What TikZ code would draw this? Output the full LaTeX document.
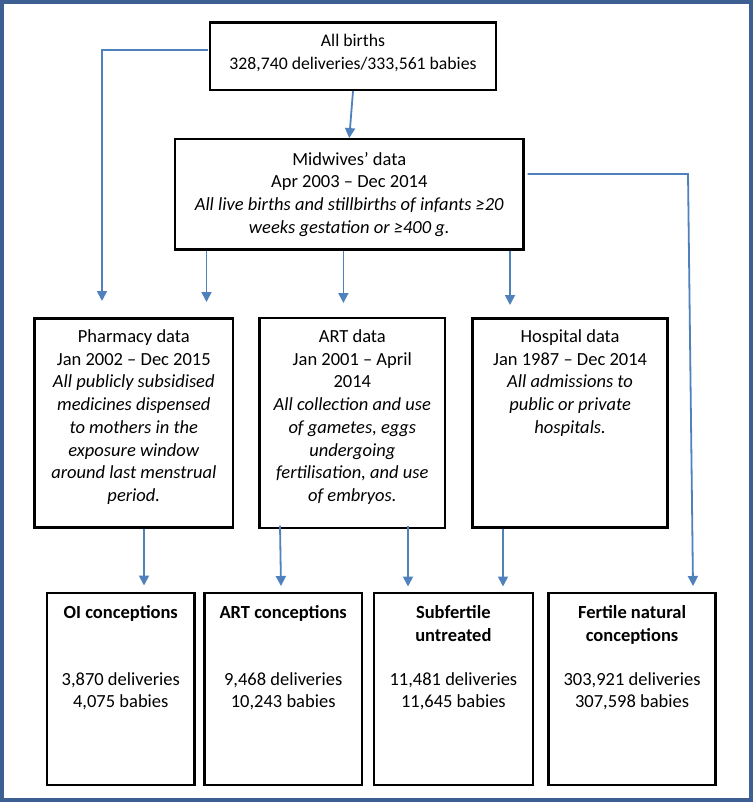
\documentclass[tikz,border=0pt]{standalone}
\usepackage{fontspec}
\setmainfont{Carlito}
\usetikzlibrary{arrows.meta}
\definecolor{frameblue}{HTML}{3E5F91}
\definecolor{arrowblue}{HTML}{4F81BD}
\begin{document}
\begin{tikzpicture}[x=1pt,y=-1pt,
  box/.style={draw=black, line width=2.4pt, inner sep=0pt, fill=none},
  txt/.style={inner sep=0pt, align=center, anchor=north, font=\fontsize{18.5pt}{22.7pt}\selectfont},
  conn/.style={draw=arrowblue, line width=1.8pt, -{Triangle[length=10pt,width=10pt]}}]
\useasboundingbox (0,0) rectangle (753,802);
\fill[white] (0,0) rectangle (753,802);
\draw[frameblue, line width=4pt] (2,2) rectangle (751,800);

% boxes
\node[box, minimum width=286pt, minimum height=67.3pt] (allb) at (353,56.35) {};
\node[box, minimum width=348.5pt, minimum height=110pt] (midw) at (349.25,194.3) {};
\node[box, minimum width=198.4pt, minimum height=209pt] (pharm) at (133.8,422.8) {};
\node[box, minimum width=185.8pt, minimum height=209.7pt] (artd) at (352.3,423.1) {};
\node[box, minimum width=195pt, minimum height=209pt] (hosp) at (570.1,422.8) {};
\node[box, minimum width=147.5pt, minimum height=192.3pt] (oi) at (120.75,688.85) {};
\node[box, minimum width=157.1pt, minimum height=192.3pt] (artc) at (283.15,688.85) {};
\node[box, minimum width=159.3pt, minimum height=192.3pt] (subf) at (453.35,688.85) {};
\node[box, minimum width=167.1pt, minimum height=192.3pt] (fert) at (632.05,688.85) {};

% texts
\node[txt, font=\fontsize{17.7pt}{22.3pt}\selectfont] (tallb) at (353,34.5) {All births\\328,740 deliveries/333,561 babies};
\node[txt] (tmidw) at (349.25,152) {Midwives’ data\\Apr 2003 – Dec 2014\\\itshape All live births and stillbirths of infants ≥20\\\itshape weeks gestation or ≥400 g.};
\node[txt] (tpharm) at (133.8,329.5) {Pharmacy data\\Jan 2002 – Dec 2015\\\itshape All publicly subsidised\\\itshape medicines dispensed\\\itshape to mothers in the\\\itshape exposure window\\\itshape around last menstrual\\\itshape period.};
\node[txt] (tartd) at (352.3,329.5) {ART data\\Jan 2001 – April\\2014\\\itshape All collection and use\\\itshape of gametes, eggs\\\itshape undergoing\\\itshape fertilisation, and use\\\itshape of embryos.};
\node[txt] (thosp) at (570.1,329.5) {Hospital data\\Jan 1987 – Dec 2014\\\itshape All admissions to\\\itshape public or private\\\itshape hospitals.};

\node[txt, font=\fontsize{18.5pt}{22.7pt}\selectfont\bfseries] (hoi) at (120.75,605.5) {OI conceptions};
\node[txt, font=\fontsize{18.5pt}{22.7pt}\selectfont\bfseries] (hartc) at (283.15,605.5) {ART conceptions};
\node[txt, font=\fontsize{18.5pt}{22.7pt}\selectfont\bfseries] (hsubf) at (453.35,605.5) {Subfertile\\untreated};
\node[txt, font=\fontsize{18.5pt}{22.7pt}\selectfont\bfseries] (hfert) at (632.05,605.5) {Fertile natural\\conceptions};

\node[txt] (noi) at (120.75,672) {3,870 deliveries\\4,075 babies};
\node[txt] (nartc) at (283.15,672) {9,468 deliveries\\10,243 babies};
\node[txt] (nsubf) at (453.35,672) {11,481 deliveries\\11,645 babies};
\node[txt] (nfert) at (632.05,672) {303,921 deliveries\\307,598 babies};

% arrow end points
\coordinate (eL1) at (102,301);
\coordinate (eL2) at (206.5,302);
\coordinate (eL3) at (343.4,303);
\coordinate (eL4) at (510,305);
\coordinate (bR) at (688,174);
\coordinate (bL) at (102,50);
\coordinate (sL) at (207.5,50);

% connectors
\draw[conn] (allb.south) -- (midw.north);
\draw[conn] (sL) -- (bL) -- (eL1);
\draw[conn] (midw.south -| eL2) -- (eL2);
\draw[conn] (midw.south -| eL3) -- (eL3);
\draw[conn] (midw.south -| eL4) -- (eL4);
\draw[conn] ([xshift=3pt]midw.east |- bR) -- (bR) -- ([xshift=693pt-632.05pt,yshift=5.5pt]fert.north);

\draw[conn] (pharm.south -| 144,0) -- ([yshift=6pt]oi.north -| 144,0);
\draw[conn] ([yshift=3.5pt]artd.south -| 280,0) -- ([yshift=5.5pt]artc.north -| 281,0);
\draw[conn] ([yshift=3.5pt]artd.south -| 408,0) -- ([yshift=5pt]subf.north -| 408,0);
\draw[conn] (hosp.south -| 503,0) -- ([yshift=5pt]subf.north -| 503,0);
\end{tikzpicture}
\end{document}
